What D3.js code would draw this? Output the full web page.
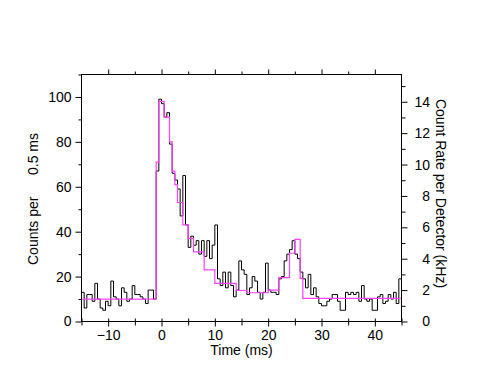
<!DOCTYPE html>
<html>
<head>
<meta charset="utf-8">
<script src="https://cdn.jsdelivr.net/npm/d3@7"></script>
<style>
  html, body { margin: 0; padding: 0; background: #fff; }
  svg { display: block; }
  text { font-family: "Liberation Sans", Arial, Helvetica, sans-serif; fill: #000; }
</style>
</head>
<body>
<svg id="chart" width="485" height="376"></svg>
<script>
// ---- data ----
const binStart = -15;          // ms, left edge of first bin
const binWidth = 0.5;          // ms
// observed counts per 0.5 ms bin, from -15 ms to 45 ms (120 bins)
const counts = [
  13, 6, 12, 12, 9, 17, 10, 6, 5, 9, 7, 18, 11, 10, 7, 15, 13, 9, 10, 16,
  12, 12, 11, 10, 8, 14, 14, 10,
  67, 99, 97, 91, 93, 79, 66, 63, 59, 47, 65, 43, 33, 38, 34, 36, 30, 36, 29, 36,
  28, 34, 43, 19, 16, 22, 15, 22, 16, 11, 14, 27, 23, 21, 12, 15, 20, 18, 13, 10,
  13, 26, 14, 13, 13, 12, 19, 20, 27, 30, 32, 36, 30, 28, 22, 19, 15, 21, 12, 15,
  11, 8, 7, 7, 9, 10, 12, 12, 9, 5, 5, 13, 12, 13, 12, 13, 9, 16, 10, 9,
  10, 5, 5, 11, 12, 8, 9, 12, 10, 13, 8, 19
];
// model (block) curve: edges in ms and level in counts per 0.5 ms
const modelEdges  = [-15, -1, -0.5, 0.5, 1.5, 2, 2.5, 3, 4, 5, 6, 8, 10, 14, 16, 20, 22, 24, 25, 26, 26.5, 45];
const modelValues = [10, 71, 98, 91, 80, 67, 61, 53, 43, 37, 31, 23, 17, 13.8, 12.8, 14, 19.5, 30.4, 36.6, 19.2, 10.3];
// ticks
const xMajorTicks = [-10, 0, 10, 20, 30, 40];
const xMinorTicks = [-15, -5, 5, 15, 25, 35, 45];
const yMajorTicks = [0, 20, 40, 60, 80, 100];
const yMinorTicks = [10, 30, 50, 70, 90, 110];
const rMajorTicks = [0, 2, 4, 6, 8, 10, 12, 14];
const rMinorTicks = [1, 3, 5, 7, 9, 11, 13, 15];
const countsPerKHz = 6.99;

// ---- scales ----
const svg = d3.select("#chart");
const x = d3.scaleLinear().domain([-15, 45]).range([81.5, 401.5]);
const y = d3.scaleLinear().domain([0, 110]).range([321.5, 74.5]);
const yR = d3.scaleLinear().domain([0, 110 / countsPerKHz]).range([321.5, 74.5]);

const FS = "14px";

// ---- histogram (black) ----
const histPts = counts.map((c, i) => [binStart + i * binWidth, c]);
histPts.push([binStart + counts.length * binWidth, counts[counts.length - 1]]);
const stepLine = d3.line().x(d => x(d[0])).y(d => y(d[1])).curve(d3.curveStepAfter);
svg.append("path").attr("d", stepLine(histPts))
  .attr("fill", "none").attr("stroke", "#000").attr("stroke-width", 1);

// ---- model (magenta) ----
const modelPts = modelValues.map((v, i) => [modelEdges[i], v]);
modelPts.push([modelEdges[modelEdges.length - 1], modelValues[modelValues.length - 1]]);
svg.append("path").attr("d", stepLine(modelPts))
  .attr("fill", "none").attr("stroke", "#ff40ff").attr("stroke-width", 1.2);

// ---- frame ----
svg.append("rect")
  .attr("x", x(-15)).attr("y", y(110))
  .attr("width", x(45) - x(-15)).attr("height", y(0) - y(110))
  .attr("fill", "none").attr("stroke", "#000").attr("stroke-width", 1);

function styleAxis(g) {
  g.select(".domain").remove();
  g.selectAll("line").attr("stroke", "#000");
  g.selectAll("text").style("font-size", FS).attr("fill", "#000");
  g.attr("font-family", null).attr("font-size", null);
}

// bottom axis: ticks cross the line
const gB = svg.append("g").attr("transform", `translate(0,${y(0)})`)
  .call(d3.axisBottom(x).tickValues(xMajorTicks).tickSize(5).tickPadding(4).tickFormat(d3.format("d")));
styleAxis(gB);
gB.selectAll("text").attr("dy", null).attr("y", 18.5);
svg.append("g").attr("transform", `translate(0,${y(0)})`)
  .call(d3.axisTop(x).tickValues(xMajorTicks).tickSize(3).tickFormat(""))
  .call(styleAxis);
svg.append("g").attr("transform", `translate(0,${y(0)})`)
  .call(d3.axisBottom(x).tickValues(xMinorTicks).tickSize(4).tickFormat(""))
  .call(styleAxis);
svg.append("g").attr("transform", `translate(0,${y(0)})`)
  .call(d3.axisTop(x).tickValues(xMinorTicks).tickSize(3).tickFormat(""))
  .call(styleAxis);

// top axis: outward ticks
svg.append("g").attr("transform", `translate(0,${y(110)})`)
  .call(d3.axisTop(x).tickValues(xMajorTicks).tickSize(5).tickFormat(""))
  .call(styleAxis);
svg.append("g").attr("transform", `translate(0,${y(110)})`)
  .call(d3.axisTop(x).tickValues(xMinorTicks.slice(1, -1)).tickSize(3).tickFormat(""))
  .call(styleAxis);

// left axis
const gL = svg.append("g").attr("transform", `translate(${x(-15)},0)`)
  .call(d3.axisLeft(y).tickValues(yMajorTicks).tickSize(6).tickPadding(4));
styleAxis(gL);
svg.append("g").attr("transform", `translate(${x(-15)},0)`)
  .call(d3.axisLeft(y).tickValues(yMinorTicks).tickSize(3).tickFormat(""))
  .call(styleAxis);

// right axis (kHz)
const gR = svg.append("g").attr("transform", `translate(${x(45)},0)`)
  .call(d3.axisRight(yR).tickValues(rMajorTicks).tickSize(6).tickPadding(4));
styleAxis(gR);
gR.selectAll("text").attr("text-anchor", "end").attr("x", 28.5);
svg.append("g").attr("transform", `translate(${x(45)},0)`)
  .call(d3.axisRight(yR).tickValues(rMinorTicks).tickSize(4).tickFormat(""))
  .call(styleAxis);

// titles
svg.append("text").attr("x", 241.5).attr("y", 355).attr("text-anchor", "middle")
  .style("font-size", FS).text("Time (ms)");
svg.append("text").attr("transform", "translate(38,265) rotate(-90)")
  .style("text-anchor", "start").style("font-size", FS).text("Counts per");
svg.append("text").attr("transform", "translate(38,175) rotate(-90)")
  .style("text-anchor", "start").style("font-size", FS).text("0.5 ms");
svg.append("text").attr("transform", "translate(435.5,193.5) rotate(90)")
  .style("text-anchor", "middle").style("font-size", FS).text("Count Rate per Detector (kHz)");
</script>
</body>
</html>
